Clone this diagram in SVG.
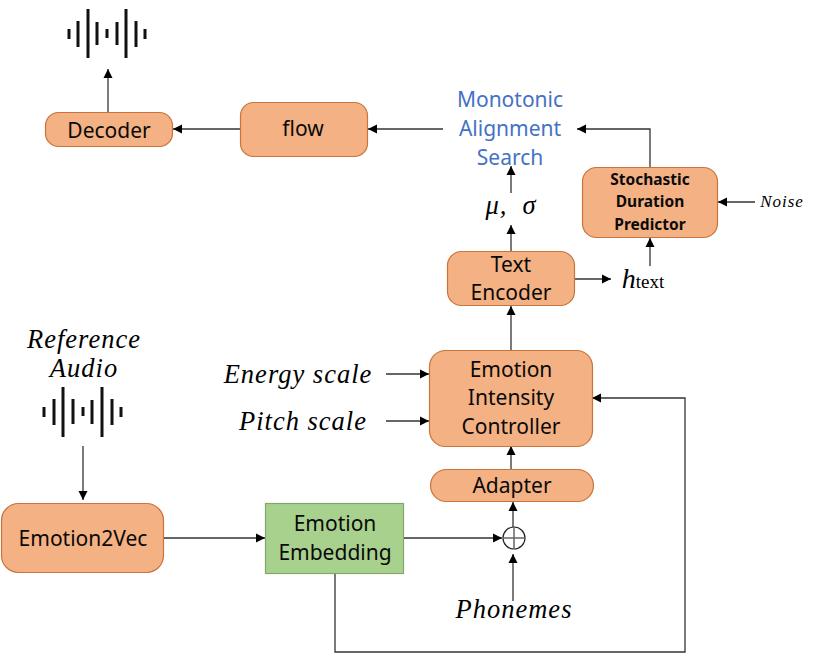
<svg xmlns="http://www.w3.org/2000/svg" width="813" height="653" viewBox="0 0 813 653">
<defs>
<marker id="a" markerUnits="userSpaceOnUse" markerWidth="10" markerHeight="10" refX="9" refY="5" orient="auto"><path d="M0,0.5 L9,5 L0,9.500 Z" fill="#000"/></marker>
</defs>
<style>
.n{fill:#f4b183;stroke:#c8743c;stroke-width:1.2}
.t{font-family:"Noto Sans","Open Sans",sans-serif;font-size:21px;fill:#0a0a0a;text-anchor:middle}
.b{font-family:"Noto Sans","Open Sans",sans-serif;font-size:15.500px;font-weight:700;fill:#0a0a0a;text-anchor:middle}
.m{font-family:"Liberation Serif",serif;font-style:italic;font-size:26.500px;fill:#000;text-anchor:middle;letter-spacing:1px}
.c{fill:none;stroke:#333;stroke-width:1.3;marker-end:url(#a)}
.w{stroke:#111;stroke-width:3;fill:none}
</style>
<rect width="813" height="653" fill="#fff"/>
<g id="connectors">
<path class="c" d="M108,112V69"/>
<path class="c" d="M240,129H173"/>
<path class="c" d="M443,129H368"/>
<path class="c" d="M650,167V129H577"/>
<path class="c" d="M511,193V166"/>
<path class="c" d="M511,252V225"/>
<path class="c" d="M575,279H611"/>
<path class="c" d="M650,266V238"/>
<path class="c" d="M755,202H718"/>
<path class="c" d="M511,351V306"/>
<path class="c" d="M386,374H429"/>
<path class="c" d="M386,421H429"/>
<path class="c" d="M511,470V446"/>
<path class="c" d="M513,527V502"/>
<path class="c" d="M513,601V554"/>
<path class="c" d="M404,538H502"/>
<path class="c" d="M164,538H265"/>
<path class="c" d="M83,446V500"/>
<path class="c" d="M335,573V652H685V398H592"/>
</g>
<g id="wave-top"><path class="w" d="M69,29V39M78,21V47M88,9V58M97,22V45M107,29V38M117,22V45M126,9V58M136,21V47M145,29V39"/></g>
<g id="wave-ref"><path class="w" d="M44,407V417M54,399V425M63,387V437M73,399V424M83,407V416M92,400V424M102,387V437M112,399V425M121,407V417"/></g>
<g id="decoder"><rect class="n" x="45.500" y="112.500" width="127" height="34" rx="13"/><text class="t" x="109" y="138">Decoder</text></g>
<g id="flow"><rect class="n" x="240.500" y="102.500" width="127" height="54" rx="13"/><text class="t" x="303" y="136">flow</text></g>
<g id="mas"><text class="t" x="510" y="107" style="fill:#4472c4">Monotonic</text><text class="t" x="510" y="136" style="fill:#4472c4">Alignment</text><text class="t" x="510" y="165" style="fill:#4472c4">Search</text></g>
<g id="mu-sigma"><text class="m" x="511" y="214" xml:space="preserve">μ,  σ</text></g>
<g id="sdp"><rect class="n" x="582.500" y="167.500" width="135" height="70" rx="14"/><text class="b" x="650" y="185">Stochastic</text><text class="b" x="650" y="207">Duration</text><text class="b" x="650" y="230">Predictor</text></g>
<g id="noise"><text class="m" x="782" y="207" style="font-size:17px">Noise</text></g>
<g id="h-text"><text class="m" x="643" y="288" style="font-size:28px;letter-spacing:0">h<tspan style="font-style:normal;font-size:19px">text</tspan></text></g>
<g id="text-encoder"><rect class="n" x="447.500" y="251.500" width="127" height="54" rx="14"/><text class="t" x="511" y="272">Text</text><text class="t" x="511" y="300">Encoder</text></g>
<g id="energy"><text class="m" x="298" y="383">Energy scale</text></g>
<g id="pitch"><text class="m" x="303" y="430">Pitch scale</text></g>
<g id="eic"><rect class="n" x="429.500" y="350.500" width="163" height="96" rx="16"/><text class="t" x="511" y="377">Emotion</text><text class="t" x="511" y="405">Intensity</text><text class="t" x="511" y="434">Controller</text></g>
<g id="adapter"><rect class="n" x="430.500" y="469.500" width="163" height="32" rx="16"/><text class="t" x="512" y="493">Adapter</text></g>
<g id="sum"><circle cx="514" cy="538" r="11" fill="#fff" stroke="#222" stroke-width="1.2"/><path d="M503,538H525M514,527V549" stroke="#666" stroke-width="1.500"/></g>
<g id="phonemes"><text class="m" x="514" y="618">Phonemes</text></g>
<g id="reference"><text class="m" x="84" y="348">Reference</text><text class="m" x="84" y="377">Audio</text></g>
<g id="emotion2vec"><rect class="n" x="1.500" y="503.500" width="162" height="69" rx="17"/><text class="t" x="83" y="546">Emotion2Vec</text></g>
<g id="embedding"><rect x="265.500" y="503.500" width="138" height="70" fill="#a9d18e" stroke="#7fa86a" stroke-width="1.2"/><text class="t" x="335" y="531">Emotion</text><text class="t" x="335" y="560">Embedding</text></g>
</svg>
